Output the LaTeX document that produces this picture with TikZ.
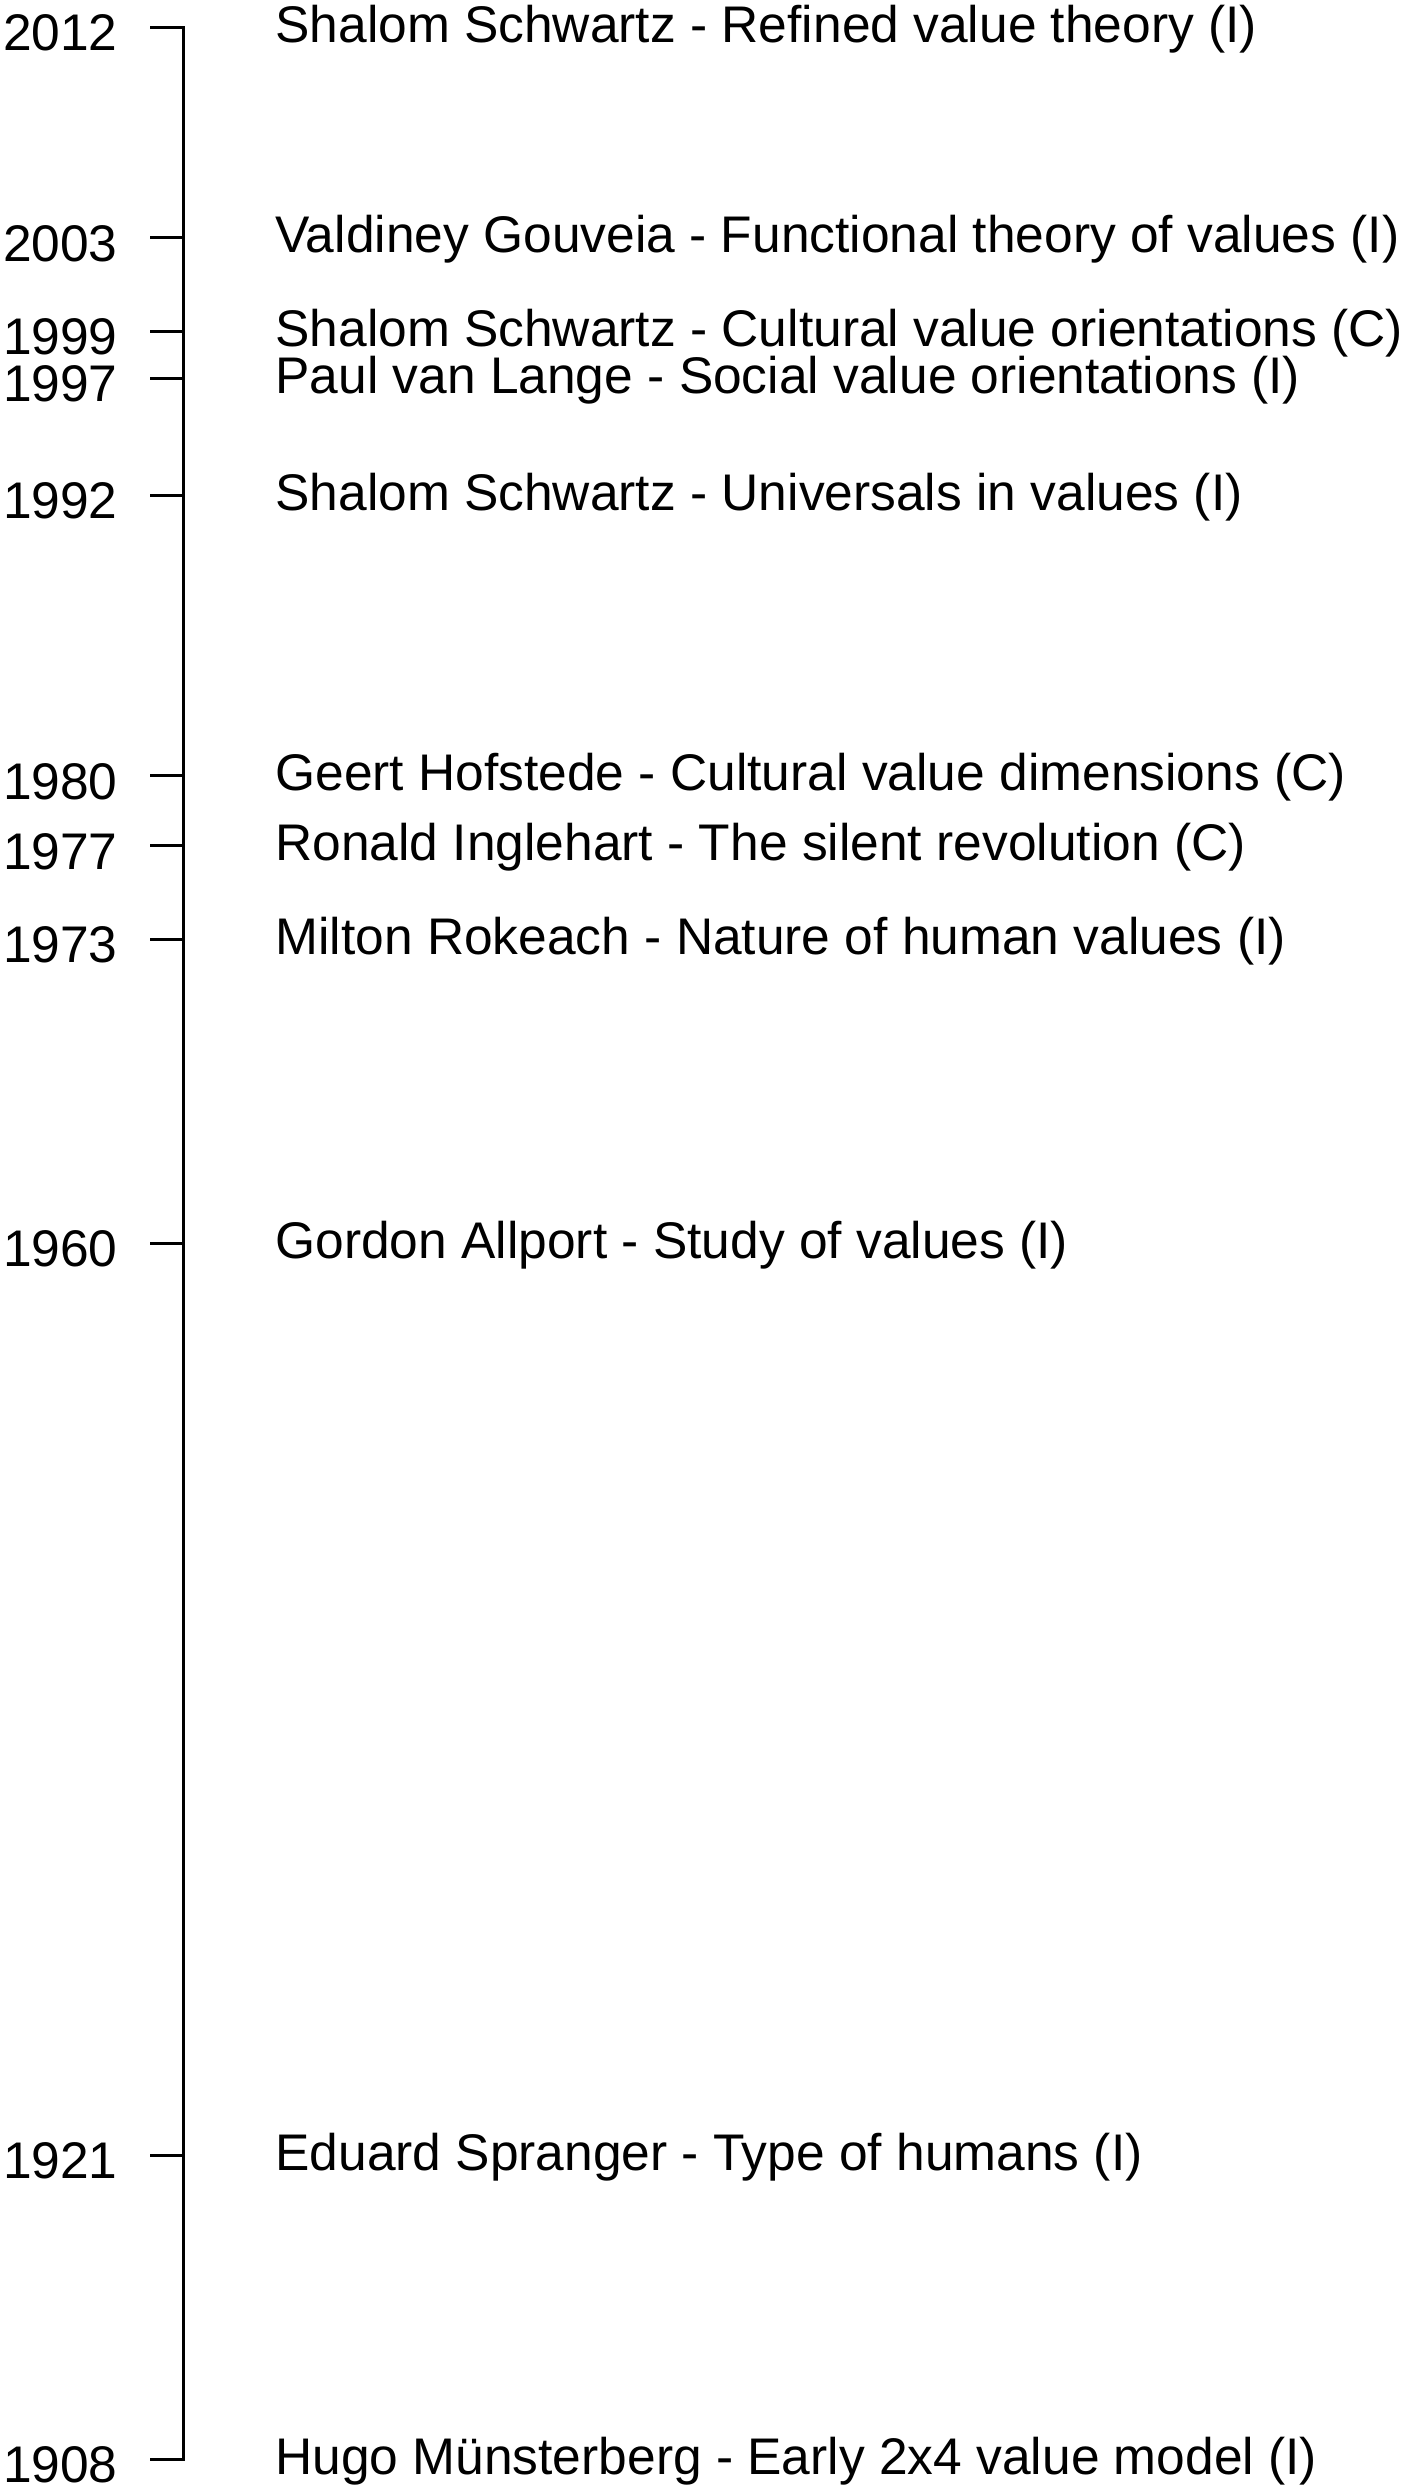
\documentclass[tikz,border=0pt]{standalone}
\usepackage{fontspec}
\setmainfont{Liberation Sans}
\begin{document}
\begin{tikzpicture}[x=0.5pt,y=-0.5pt,
  yearlbl/.style={anchor=base east,inner sep=0pt,font=\fontsize{25.75pt}{30pt}\selectfont},
  evlbl/.style={anchor=base west,inner sep=0pt,font=\fontsize{25.75pt}{30pt}\selectfont},
  axisline/.style={line width=1.5pt,black}]
\useasboundingbox (0,0) rectangle (1416,2492);
\foreach \yr/\txt in {2012/Shalom Schwartz - Refined value theory (I),
  2003/Valdiney Gouveia - Functional theory of values (I),
  1999/Shalom Schwartz - Cultural value orientations (C),
  1997/Paul van Lange - Social value orientations (I),
  1992/Shalom Schwartz - Universals in values (I),
  1980/Geert Hofstede - Cultural value dimensions (C),
  1977/Ronald Inglehart - The silent revolution (C),
  1973/Milton Rokeach - Nature of human values (I),
  1960/Gordon Allport - Study of values (I),
  1921/Eduard Spranger - Type of humans (I),
  1908/Hugo Münsterberg - Early 2x4 value model (I)}{
  \pgfmathsetmacro{\ty}{27.5+(2012-\yr)*23.38}
  \coordinate (t\yr) at (183,\ty);
  \coordinate (s\yr) at (150,\ty);
  \node[yearlbl] (y\yr) at (118,\ty+23.5) {\yr};
  \node[evlbl] (e\yr) at (275,\ty+15) {\txt};
}
\draw[axisline] (s2012) -- (t2012) -- (t1908) -- (s1908);
\foreach \yr in {2003,1999,1997,1992,1980,1977,1973,1960,1921}{
  \draw[axisline] (s\yr) -- (t\yr);
}
\end{tikzpicture}
\end{document}
